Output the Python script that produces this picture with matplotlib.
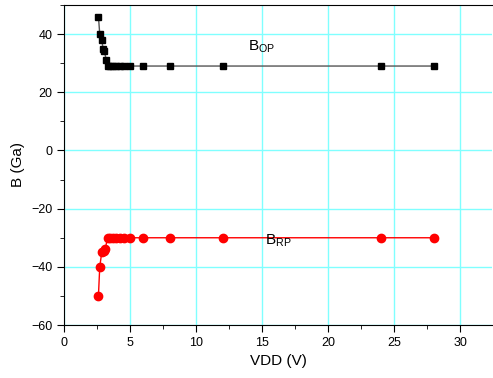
import numpy as np
import matplotlib.pyplot as plt
from matplotlib.ticker import MultipleLocator

vdd_op = [2.6, 2.7, 2.85, 2.95, 3.05, 3.2, 3.3, 3.5, 3.7, 3.9, 4.2, 4.5, 5, 6, 8, 12, 24, 28]
b_op = [46, 40, 38, 35, 34, 31, 29, 29, 29, 29, 29, 29, 29, 29, 29, 29, 29, 29]

vdd_rp = [2.6, 2.7, 2.85, 3.0, 3.1, 3.3, 3.5, 3.7, 3.9, 4.2, 4.5, 5, 6, 8, 12, 24, 28]
b_rp = [-50, -40, -35, -34.5, -34, -30, -30, -30, -30, -30, -30, -30, -30, -30, -30, -30, -30]

plt.rcParams['font.family'] = ['Liberation Sans', 'DejaVu Sans']

fig = plt.figure(figsize=(4.93, 3.78), dpi=100)
ax = fig.add_axes([0.13, 0.14, 0.868, 0.847])

ax.grid(True, color='#80ffff', linewidth=1)
ax.set_axisbelow(True)

ax.plot(vdd_op, b_op, color='#555555', linewidth=1, marker='s', markersize=5,
        markerfacecolor='black', markeredgecolor='black')
ax.plot(vdd_rp, b_rp, color='red', linewidth=1, marker='o', markersize=6,
        markerfacecolor='red', markeredgecolor='red')

ax.text(13.9, 35.5, r'B$_{\mathregular{OP}}$', fontsize=11, va='center')
ax.text(15.2, -31, r'B$_{\mathregular{RP}}$', fontsize=11, va='center')

ax.set_xlim(0, 32.4)
ax.set_ylim(-60, 50)
ax.xaxis.set_major_locator(MultipleLocator(5))
ax.xaxis.set_minor_locator(MultipleLocator(2.5))
ax.yaxis.set_major_locator(MultipleLocator(20))
ax.yaxis.set_minor_locator(MultipleLocator(10))
ax.tick_params(which='both', direction='out', labelsize=9)
ax.tick_params(which='major', length=5)
ax.tick_params(which='minor', length=3)
ax.spines['right'].set_visible(False)

ax.set_xlabel('VDD (V)', fontsize=11)
ax.set_ylabel('B (Ga)', fontsize=11)

fig.savefig('out.png', dpi=100)
